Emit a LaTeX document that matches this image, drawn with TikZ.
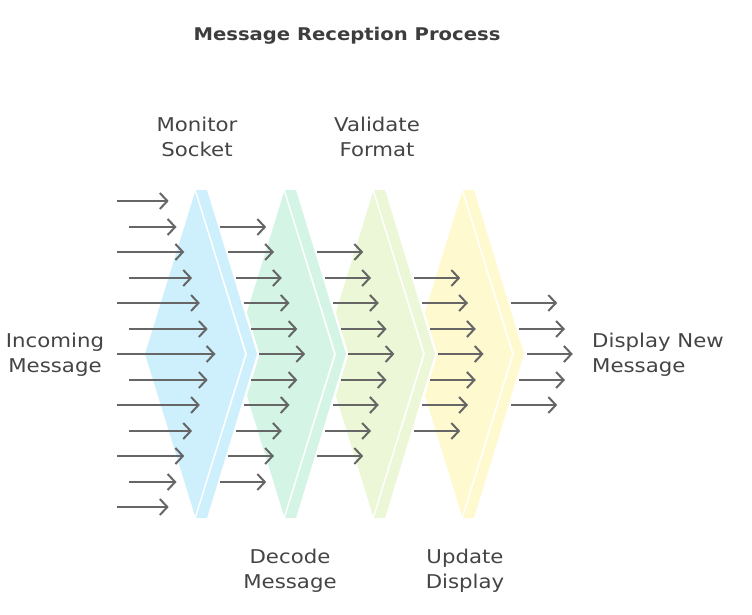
\documentclass[tikz,border=0pt]{standalone}
\usepackage{fontspec}
\setmainfont{DejaVu Sans}[FakeStretch=1.12]
\usetikzlibrary{positioning, arrows.meta}

\definecolor{stageblue}{RGB}{206,240,252}
\definecolor{stagemint}{RGB}{212,245,230}
\definecolor{stagelime}{RGB}{235,247,214}
\definecolor{stageyellow}{RGB}{254,249,206}
\definecolor{arrowgray}{RGB}{102,102,102}
\definecolor{textgray}{RGB}{68,68,68}

\tikzset{
    flow/.style={draw=arrowgray, line width=2pt, -{Straight Barb[length=7.5pt,width=16pt]}},
    steptext/.style={text=textgray, inner sep=0pt, align=center, font=\fontsize{19}{25}\selectfont},
    headline/.style={text=textgray!90!black, inner sep=0pt, font=\fontsize{17.5}{22}\selectfont\bfseries}
}

\begin{document}
\begin{tikzpicture}[x=1pt, y=-1pt]
        \useasboundingbox (0,0) rectangle (752,615);

        % stages, drawn right to left so each white gap cuts the next one
        \begin{scope}
            \newcommand{\cx}{267};
            \fill[stageyellow] (\cx+195,192) -- (\cx+245,354) -- (\cx+195,516) -- (\cx+158,396) -- (\cx+158,312) -- cycle;
            \fill[white] (\cx+196,190) -- (\cx+209.5,190) -- (\cx+259.5,354) -- (\cx+209.5,518) -- (\cx+196,518) -- (\cx+247,354) -- cycle;
            \fill[stageyellow] (\cx+196,190) -- (\cx+207,190) -- (\cx+257,354) -- (\cx+207,518) -- (\cx+196,518) -- (\cx+247,354) -- cycle;
        \end{scope}

        \begin{scope}
            \newcommand{\cx}{178};
            \fill[stagelime] (\cx+195,192) -- (\cx+245,354) -- (\cx+195,516) -- (\cx+158,396) -- (\cx+158,312) -- cycle;
            \fill[white] (\cx+196,190) -- (\cx+209.5,190) -- (\cx+259.5,354) -- (\cx+209.5,518) -- (\cx+196,518) -- (\cx+247,354) -- cycle;
            \fill[stagelime] (\cx+196,190) -- (\cx+207,190) -- (\cx+257,354) -- (\cx+207,518) -- (\cx+196,518) -- (\cx+247,354) -- cycle;
        \end{scope}

        \begin{scope}
            \newcommand{\cx}{89};
            \fill[stagemint] (\cx+195,192) -- (\cx+245,354) -- (\cx+195,516) -- (\cx+158,396) -- (\cx+158,312) -- cycle;
            \fill[white] (\cx+196,190) -- (\cx+209.5,190) -- (\cx+259.5,354) -- (\cx+209.5,518) -- (\cx+196,518) -- (\cx+247,354) -- cycle;
            \fill[stagemint] (\cx+196,190) -- (\cx+207,190) -- (\cx+257,354) -- (\cx+207,518) -- (\cx+196,518) -- (\cx+247,354) -- cycle;
        \end{scope}

        \begin{scope}
            \newcommand{\cx}{0};
            \fill[stageblue] (\cx+195,192) -- (\cx+245,354) -- (\cx+195,516) -- (\cx+145,354) -- cycle;
            \fill[white] (\cx+196,190) -- (\cx+209.5,190) -- (\cx+259.5,354) -- (\cx+209.5,518) -- (\cx+196,518) -- (\cx+247,354) -- cycle;
            \fill[stageblue] (\cx+196,190) -- (\cx+207,190) -- (\cx+257,354) -- (\cx+207,518) -- (\cx+196,518) -- (\cx+247,354) -- cycle;
        \end{scope}

        % incoming arrows
        \foreach \i in {0,...,12} {
            \pgfmathsetmacro{\ay}{round(201+25.5*\i)}
            \pgfmathsetmacro{\ax}{117+12*mod(\i,2)}
            \pgfmathsetmacro{\bx}{215.5-7.8*abs(\i-6)}
            \draw[flow] (\ax,\ay) -- (\bx,\ay);
        }

        % arrows after each stage
        \foreach \s in {1,...,4} {
            \pgfmathtruncatemacro{\last}{12-\s}
            \foreach \i in {\s,...,\last} {
                \pgfmathsetmacro{\ay}{round(201+25.5*\i)}
                \pgfmathsetmacro{\ax}{170+89.2*\s-7.8*abs(\i-6)}
                \draw[flow] (\ax,\ay) -- (\ax+46,\ay);
            }
        }

        \node[headline] (title) at (347,36) {Message Reception Process};

        \node[steptext] (monitor) at (197,137) {Monitor\\Socket};
        \node[steptext] (validate) at (377,137) {Validate\\Format};
        \node[steptext] (decode) at (290,571) {Decode\\Message};
        \node[steptext] (update) at (465,571) {Update\\Display};

        \node[steptext] (incoming) at (55,355) {Incoming\\Message};
        \node[steptext, anchor=west, align=left] (display) at (592,355) {Display New\\Message};
    \end{tikzpicture}
\end{document}
